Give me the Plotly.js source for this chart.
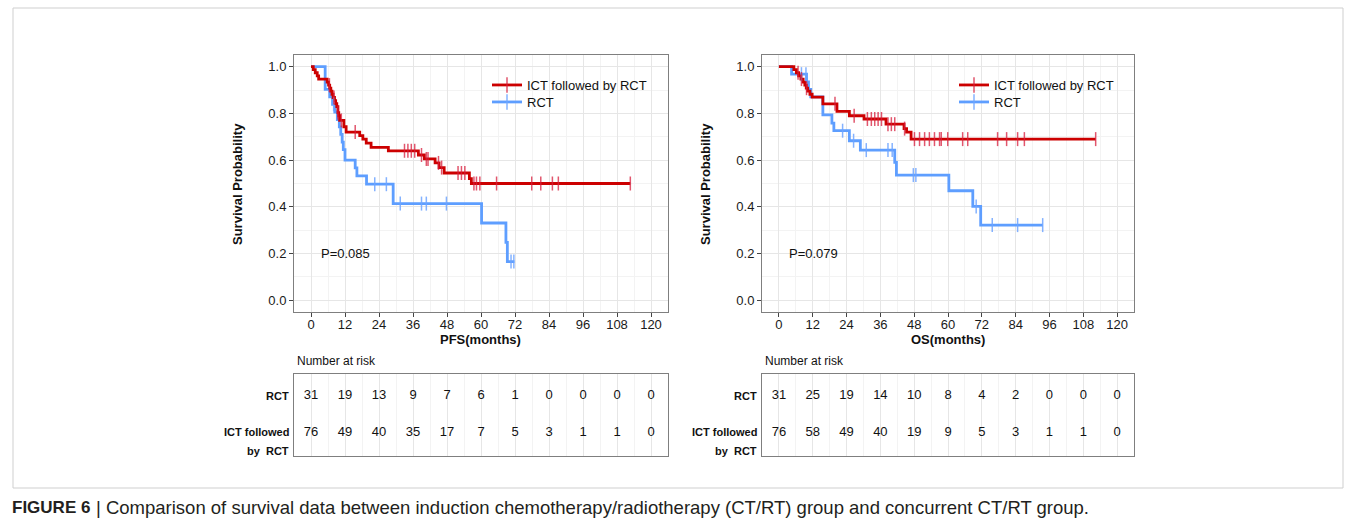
<!DOCTYPE html>
<html>
<head>
<meta charset="utf-8">
<script src="https://cdn.plot.ly/plotly-3.0.1.min.js"></script>
<style>html,body{margin:0;padding:0;background:#fff;}#chart{width:1356px;height:521px;}</style>
</head>
<body>
<div id="chart"></div>
<script>
// ---------- data ----------
const timeTicks = [0, 12, 24, 36, 48, 60, 72, 84, 96, 108, 120];
const probTicks = [0, 0.2, 0.4, 0.6, 0.8, 1.0];

// PFS, RCT group (Kaplan-Meier steps)
const pfsRctTime = [0, 5.0, 6.6, 7.6, 8.4, 9.3, 10.0, 10.5, 11.0, 11.4, 12.0, 15.6, 16.2, 19.6, 29.0, 60.2, 68.8, 69.3];
const pfsRctSurv = [1.0, 0.903, 0.871, 0.839, 0.806, 0.774, 0.742, 0.710, 0.677, 0.645, 0.600, 0.567, 0.533, 0.497, 0.414, 0.331, 0.248, 0.166];
const pfsRctEnd = 71.8;
const pfsRctCensor = [8.0, 22.5, 26.6, 31.5, 39.0, 40.7, 47.8, 70.6, 71.6];

// PFS, ICT followed by RCT group
const pfsIctTime = [0, 0.8, 1.5, 2.2, 2.7, 5.7, 6.2, 6.6, 7.0, 7.4, 7.8, 8.3, 8.7, 9.1, 9.5, 9.8, 10.1, 11.6, 12.4, 17.2, 18.3, 19.5, 21.2, 27.3, 37.9, 40.0, 43.8, 45.2, 47.0, 55.9, 56.6];
const pfsIctSurv = [1.0, 0.987, 0.974, 0.961, 0.947, 0.934, 0.921, 0.908, 0.895, 0.882, 0.868, 0.855, 0.842, 0.829, 0.803, 0.790, 0.770, 0.743, 0.720, 0.705, 0.690, 0.673, 0.655, 0.640, 0.622, 0.605, 0.588, 0.568, 0.545, 0.521, 0.500];
const pfsIctEnd = 112.7;
const pfsIctCensor = [6.5, 8.1, 9.5, 10.7, 15.6, 33.0, 34.2, 35.4, 36.6, 39.0, 40.7, 41.3, 45.0, 46.1, 51.9, 53.1, 54.3, 57.5, 58.4, 59.6, 65.5, 77.9, 81.1, 85.2, 87.3, 112.7];

// OS, RCT group
const osRctTime = [0, 4.5, 9.8, 10.5, 11.3, 15.6, 18.8, 19.5, 25.0, 28.9, 41.1, 41.7, 60.3, 68.8, 71.6];
const osRctSurv = [1.0, 0.968, 0.935, 0.903, 0.871, 0.794, 0.758, 0.726, 0.683, 0.643, 0.590, 0.536, 0.469, 0.402, 0.322];
const osRctEnd = 93.6;
const osRctCensor = [8.0, 9.6, 22.6, 26.5, 31.0, 38.7, 40.2, 47.7, 48.6, 70.0, 75.7, 84.7, 93.6];

// OS, ICT followed by RCT group
const osIctTime = [0, 5.3, 6.2, 7.0, 7.8, 8.6, 9.2, 9.7, 10.2, 11.0, 11.8, 15.6, 20.6, 25.0, 30.2, 38.0, 44.4, 45.3, 46.9];
const osIctSurv = [1.0, 0.987, 0.974, 0.961, 0.947, 0.934, 0.921, 0.908, 0.895, 0.882, 0.870, 0.841, 0.809, 0.790, 0.776, 0.754, 0.735, 0.720, 0.690];
const osIctEnd = 112.4;
const osIctCensor = [6.8, 8.0, 9.8, 19.9, 26.7, 31.4, 32.8, 34.0, 35.2, 36.4, 38.7, 39.9, 41.1, 44.6, 48.1, 49.9, 51.7, 53.4, 55.2, 57.0, 57.6, 59.9, 65.2, 67.0, 77.6, 80.8, 84.7, 87.1, 112.4];

// Number at risk tables
const pfsRiskRct = [31, 19, 13, 9, 7, 6, 1, 0, 0, 0, 0];
const pfsRiskIct = [76, 49, 40, 35, 17, 7, 5, 3, 1, 1, 0];
const osRiskRct = [31, 25, 19, 14, 10, 8, 4, 2, 0, 0, 0];
const osRiskIct = [76, 58, 49, 40, 19, 9, 5, 3, 1, 1, 0];

const groupNames = ["ICT followed by RCT", "RCT"];
const pValues = ["P=0.085", "P=0.079"];
const xTitles = ["PFS(months)", "OS(months)"];

// ---------- styling ----------
const RED = "#CC0000", BLUE = "#5E9EFF";
const RED_C = "rgba(215,30,60,0.75)", BLUE_C = "rgba(110,165,255,0.85)";
const FONT = "Liberation Sans, Arial, Helvetica, sans-serif";
const W = 1356, H = 521;
const px = v => v / W, py = v => 1 - v / H;

function stepAt(T, S, t) { let v = S[0]; for (let i = 0; i < T.length; i++) if (T[i] <= t) v = S[i]; return v; }

function curve(T, S, end, color, xa, ya) {
  return { x: T.concat([end]), y: S.concat([S[S.length - 1]]), mode: "lines", line: { shape: "hv", color: color, width: 2.8 },
    xaxis: xa, yaxis: ya, showlegend: false, hoverinfo: "skip" };
}
function censor(T, S, C, color, xa, ya) {
  return { x: C, y: C.map(t => stepAt(T, S, t)), mode: "markers",
    marker: { symbol: "line-ns-open", size: 10, color: color, line: { width: 1.5, color: color } },
    xaxis: xa, yaxis: ya, showlegend: false, hoverinfo: "skip" };
}
function legendTrace(name, color, mcolor, xa, ya, leg) {
  return { x: [null], y: [null], name: name, mode: "lines+markers", line: { color: color, width: 2.8 },
    marker: { symbol: "line-ns-open", size: 11, color: mcolor, line: { width: 1.5, color: mcolor } },
    xaxis: xa, yaxis: ya, legend: leg, showlegend: true };
}
function riskRow(vals, yv, xa, ya) {
  return { x: timeTicks, y: timeTicks.map(() => yv), text: vals.map(String), mode: "text",
    textfont: { family: FONT, size: 13, color: "#111" }, textposition: "middle center",
    xaxis: xa, yaxis: ya, showlegend: false, hoverinfo: "skip" };
}

const data = [
  curve(pfsRctTime, pfsRctSurv, pfsRctEnd, BLUE, "x", "y"),
  curve(pfsIctTime, pfsIctSurv, pfsIctEnd, RED, "x", "y"),
  censor(pfsRctTime, pfsRctSurv, pfsRctCensor, BLUE_C, "x", "y"),
  censor(pfsIctTime, pfsIctSurv, pfsIctCensor, RED_C, "x", "y"),
  curve(osRctTime, osRctSurv, osRctEnd, BLUE, "x2", "y2"),
  curve(osIctTime, osIctSurv, osIctEnd, RED, "x2", "y2"),
  censor(osRctTime, osRctSurv, osRctCensor, BLUE_C, "x2", "y2"),
  censor(osIctTime, osIctSurv, osIctCensor, RED_C, "x2", "y2"),
  legendTrace(groupNames[0], RED, RED_C, "x", "y", "legend"),
  legendTrace(groupNames[1], BLUE, BLUE_C, "x", "y", "legend2"),
  legendTrace(groupNames[0], RED, RED_C, "x2", "y2", "legend3"),
  legendTrace(groupNames[1], BLUE, BLUE_C, "x2", "y2", "legend4"),
  riskRow(pfsRiskRct, 2, "x3", "y3"),
  riskRow(pfsRiskIct, 1, "x3", "y3"),
  riskRow(osRiskRct, 2, "x4", "y4"),
  riskRow(osRiskIct, 1, "x4", "y4")
];

const GRID = "#e6e6e6", MINOR = "#f3f3f3", BORDER = "#7f7f7f";
function xAxis(dom, anchor, labels) {
  return { domain: dom, anchor: anchor, range: [-6, 126], tickvals: timeTicks, ticktext: timeTicks.map(String),
    showticklabels: labels, ticks: labels ? "outside" : "", ticklen: 4, tickcolor: "#444", ticklabelstandoff: -4,
    tickfont: { family: FONT, size: 13, color: "#1a1a1a" }, showgrid: true, gridcolor: GRID, gridwidth: 1,
    minor: { dtick: 6, tick0: 0, showgrid: true, gridcolor: MINOR, ticks: "" },
    zeroline: false, showline: true, mirror: true, linecolor: BORDER, linewidth: 1, fixedrange: true };
}
function yAxis(dom, anchor) {
  return { domain: dom, anchor: anchor, range: [-0.05, 1.05], tickvals: probTicks, ticktext: probTicks.map(v => v.toFixed(1)),
    ticks: "outside", ticklen: 4, tickcolor: "#444", tickfont: { family: FONT, size: 13, color: "#1a1a1a" },
    showgrid: true, gridcolor: GRID, minor: { dtick: 0.1, tick0: 0, showgrid: true, gridcolor: MINOR, ticks: "" },
    zeroline: false, showline: true, mirror: true, linecolor: BORDER, linewidth: 1, fixedrange: true };
}
function tAxis(dom, anchor) {
  return { domain: dom, anchor: anchor, range: [0.38, 2.6], showticklabels: false, ticks: "", showgrid: false,
    zeroline: false, showline: true, mirror: true, linecolor: BORDER, linewidth: 1, fixedrange: true };
}

const L = [294, 668], R = [762, 1134];
const plotY = [py(312), py(55)], tabY = [py(456), py(374)];

const ann = [];
function addText(text, x, y, opts) { ann.push(Object.assign({ text: text, x: x, y: y, xref: "paper", yref: "paper", showarrow: false,
  font: { family: FONT, size: 13, color: "#111" } }, opts)); }

[[L, xTitles[0], "x", "y", pValues[0]], [R, xTitles[1], "x2", "y2", pValues[1]]].forEach(([b, xt, xa, ya, pv]) => {
  addText("<b>Survival Probability</b>", px(b[0] - 57), py(184), { textangle: -90, xanchor: "center", yanchor: "middle" });
  addText("<b>" + xt + "</b>", px((b[0] + b[1]) / 2), py(339), { xanchor: "center", yanchor: "middle" });
  ann.push({ text: pv, x: 2.8, y: 0.2, xref: xa, yref: ya, xanchor: "left", yanchor: "middle", showarrow: false,
    font: { family: FONT, size: 13, color: "#111" } });
  addText("Number at risk", px(b[0] + 1), py(361), { xanchor: "left", yanchor: "middle", font: { family: FONT, size: 12, color: "#111" } });
  addText("<b>RCT</b>", px(b[0] - 3), py(396), { xanchor: "right", yanchor: "middle", font: { family: FONT, size: 11, color: "#111" } });
  addText("<b>ICT followed</b>", px(b[0] - 3), py(432), { xanchor: "right", yanchor: "middle", font: { family: FONT, size: 11, color: "#111" } });
  addText("<b>by  RCT</b>", px(b[0] - 3), py(451), { xanchor: "right", yanchor: "middle", font: { family: FONT, size: 11, color: "#111" } });
});
addText("<b>FIGURE 6</b>", px(10), py(507), { xanchor: "left", yanchor: "middle", font: { family: FONT, size: 17, color: "#231f20" } });
addText("| Comparison of survival data between induction chemotherapy/radiotherapy (CT/RT) group and concurrent CT/RT group.",
  px(94), py(507), { xanchor: "left", yanchor: "middle", font: { family: FONT, size: 18.5, color: "#231f20" } });

const legendStyle = (x, y) => ({ x: x, y: y, xanchor: "left", yanchor: "middle", bgcolor: "rgba(0,0,0,0)", borderwidth: 0,
  font: { family: FONT, size: 13, color: "#111" }, tracegroupgap: 0, itemclick: false, itemdoubleclick: false });

const layout = {
  width: W, height: H, margin: { l: 0, r: 0, t: 0, b: 0 }, paper_bgcolor: "#fff", plot_bgcolor: "#fff",
  font: { family: FONT },
  xaxis: xAxis([px(L[0]), px(L[1])], "y", true), yaxis: yAxis(plotY, "x"),
  xaxis2: xAxis([px(R[0]), px(R[1])], "y2", true), yaxis2: yAxis(plotY, "x2"),
  xaxis3: xAxis([px(L[0]), px(L[1])], "y3", false), yaxis3: tAxis(tabY, "x3"),
  xaxis4: xAxis([px(R[0]), px(R[1])], "y4", false), yaxis4: tAxis(tabY, "x4"),
  legend: legendStyle(px(487), py(85)), legend2: legendStyle(px(487), py(102)),
  legend3: legendStyle(px(954), py(85)), legend4: legendStyle(px(954), py(102)),
  annotations: ann,
  shapes: [{ type: "rect", xref: "paper", yref: "paper", x0: px(13), x1: px(1343), y0: py(488), y1: py(8),
    line: { color: "#cfcfcf", width: 1 } }]
};

Plotly.newPlot("chart", data, layout, { staticPlot: true, displayModeBar: false });
</script>
</body>
</html>
